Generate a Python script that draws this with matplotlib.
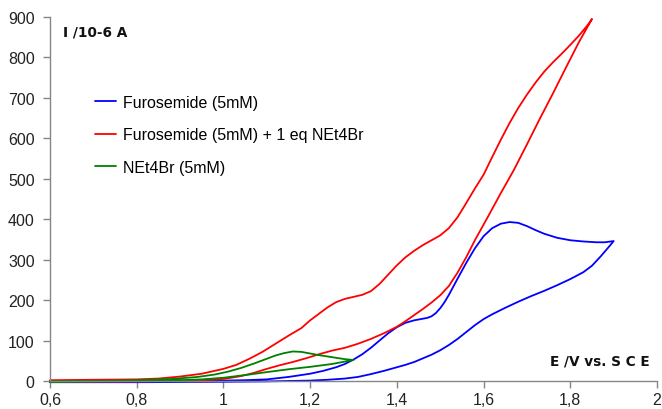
import matplotlib
matplotlib.use("Agg")
import matplotlib.pyplot as plt

# Furosemide (5mM): forward then reverse scan
blue_E = [0.60, 0.70, 0.80, 0.90, 1.00, 1.05, 1.10, 1.15, 1.20, 1.23, 1.26, 1.28, 1.30, 1.32,
          1.34, 1.36, 1.38, 1.40, 1.42, 1.44, 1.46, 1.47, 1.48, 1.49, 1.50, 1.51, 1.52, 1.54,
          1.56, 1.58, 1.60, 1.62, 1.64, 1.66, 1.68, 1.70, 1.72, 1.74, 1.77, 1.80, 1.83, 1.86,
          1.88, 1.90,
          1.89, 1.87, 1.85, 1.83, 1.80, 1.77, 1.74, 1.71, 1.68, 1.65, 1.62, 1.60, 1.58, 1.56,
          1.54, 1.52, 1.50, 1.48, 1.46, 1.44, 1.42, 1.40, 1.37, 1.34, 1.31, 1.28, 1.24, 1.20,
          1.10, 1.00, 0.80, 0.60]
blue_I = [-1, -1, -1, 0, 1, 2, 4, 10, 18, 25, 34, 42, 53, 66,
          82, 100, 118, 133, 144, 150, 154, 156, 160, 168, 180, 195, 213, 253,
          292, 328, 358, 378, 389, 393, 391, 383, 373, 364, 354, 348, 345, 343,
          343, 346,
          333, 308, 285, 269, 252, 237, 223, 210, 196, 181, 165, 153, 138, 121,
          104, 89, 76, 65, 56, 47, 40, 34, 25, 17, 10, 6, 3, 1,
          -1, -2, -3, -3]

# Furosemide (5mM) + 1 eq NEt4Br
red_E = [0.60, 0.70, 0.80, 0.85, 0.90, 0.95, 1.00, 1.03, 1.06, 1.09, 1.12, 1.15, 1.18, 1.20,
         1.22, 1.24, 1.26, 1.28, 1.30, 1.32, 1.34, 1.36, 1.38, 1.40, 1.42, 1.44, 1.46, 1.48,
         1.50, 1.52, 1.54, 1.56, 1.58, 1.60, 1.62, 1.64, 1.66, 1.68, 1.70, 1.72, 1.74, 1.76,
         1.78, 1.80, 1.82, 1.84, 1.85,
         1.82, 1.79, 1.76, 1.73, 1.70, 1.67, 1.64, 1.61, 1.58, 1.56, 1.54, 1.52, 1.50, 1.48,
         1.46, 1.44, 1.42, 1.40, 1.37, 1.34, 1.31, 1.28, 1.25, 1.22, 1.19, 1.16, 1.13, 1.10,
         1.07, 1.04, 1.00, 0.95, 0.90, 0.80, 0.60]
red_I = [2, 3, 4, 6, 11, 18, 30, 40, 55, 72, 92, 112, 131, 150,
         166, 182, 195, 203, 208, 213, 222, 240, 263, 286, 306, 322, 336, 348,
         360, 378, 405, 440, 476, 510, 554, 597, 638, 675, 708, 738, 765, 788,
         809, 831, 854, 880, 895,
         838, 775, 711, 649, 585, 522, 465, 406, 348, 306, 268, 235, 212, 194,
         178, 163, 148, 134, 118, 104, 92, 82, 75, 66, 56, 47, 39, 30,
         20, 12, 5, 2, 1, -1, -2]

# NEt4Br (5mM)
green_E = [0.60, 0.70, 0.80, 0.88, 0.94, 0.98, 1.01, 1.04, 1.07, 1.10, 1.12, 1.14, 1.16, 1.18,
           1.20, 1.22, 1.25, 1.28, 1.30,
           1.25, 1.20, 1.15, 1.10, 1.06, 1.00, 0.95, 0.90, 0.80, 0.60]
green_I = [-1, 0, 2, 5, 10, 16, 23, 32, 43, 55, 63, 69, 73, 72,
           68, 64, 59, 54, 52,
           42, 35, 29, 22, 16, 8, 4, 2, 0, -2]

xticks = [0.6, 0.8, 1.0, 1.2, 1.4, 1.6, 1.8, 2.0]
xlabels = ["0,6", "0,8", "1", "1,2", "1,4", "1,6", "1,8", "2"]
yticks = [0, 100, 200, 300, 400, 500, 600, 700, 800, 900]

plt.rcParams['font.family'] = ['Liberation Sans', 'DejaVu Sans']

fig = plt.figure(figsize=(6.62, 4.10), dpi=100)
ax = fig.add_axes([50 / 662, 1 - 382 / 410, 607 / 662, 364 / 410])

kw = dict(lw=1.3, clip_on=False, solid_joinstyle='round', solid_capstyle='round')
ax.plot(blue_E, blue_I, color='#0000ff', label="Furosemide (5mM)", **kw)
ax.plot(red_E, red_I, color='#ff0000', label="Furosemide (5mM) + 1 eq NEt4Br", **kw)
ax.plot(green_E, green_I, color='#008000', label="NEt4Br (5mM)", **kw)

ax.set_xlim(0.6, 2.0)
ax.set_ylim(0, 900)
ax.set_xticks(xticks)
ax.set_xticklabels(xlabels)
ax.set_yticks(yticks)

for s in ['top', 'right']:
    ax.spines[s].set_visible(False)
for s in ['left', 'bottom']:
    ax.spines[s].set_color('#868686')
    ax.spines[s].set_linewidth(1.0)
ax.tick_params(axis='both', colors='#868686', labelcolor='#222222', labelsize=11.5,
               length=5, width=1.0, direction='out')
ax.tick_params(axis='y', pad=6)
ax.tick_params(axis='x', pad=3)

fig.text(63 / 662, 1 - 33 / 410, "I /10-6 A", fontsize=9.8, fontweight='bold',
         family='DejaVu Sans', va='center', ha='left', color='#111111')
fig.text(650 / 662, 1 - 362 / 410, "E /V vs. S C E", fontsize=9.8, fontweight='bold',
         family='DejaVu Sans', va='center', ha='right', color='#111111')

ax.legend(loc='upper left', bbox_to_anchor=(95 / 662, 1 - 96 / 410),
          bbox_transform=fig.transFigure, frameon=False, fontsize=11.5,
          handlelength=1.3, handletextpad=0.45, labelspacing=1.08,
          borderpad=0, borderaxespad=0)

fig.savefig("out.png", dpi=100)
